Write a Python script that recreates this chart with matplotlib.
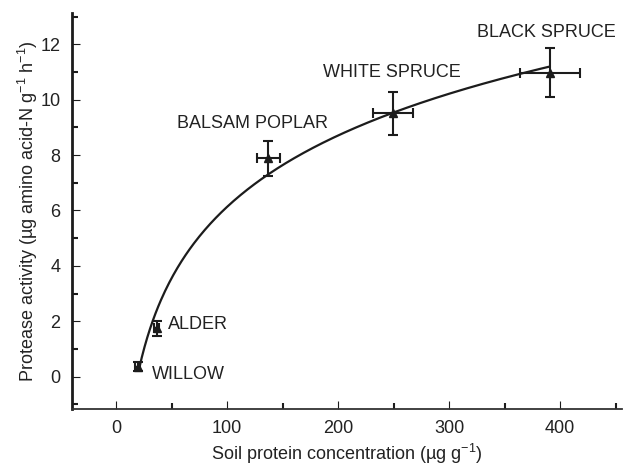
import numpy as np
import matplotlib
matplotlib.use("Agg")
import matplotlib.pyplot as plt
from matplotlib.ticker import MultipleLocator

plt.rcParams["font.family"] = ["Liberation Sans", "DejaVu Sans"]
plt.rcParams["mathtext.default"] = "regular"

# Stand data
species = ["WILLOW", "ALDER", "BALSAM POPLAR", "WHITE SPRUCE", "BLACK SPRUCE"]
protein = [19.5, 36.6, 137.0, 249.4, 390.9]          # µg g-1
protein_err = [2.0, 2.5, 10.5, 18.0, 27.0]
protease = [0.36, 1.75, 7.88, 9.51, 10.97]           # µg amino acid-N g-1 h-1
protease_err = [0.15, 0.27, 0.64, 0.78, 0.88]

# label anchors (left edge, vertical centre) in data units
label_x = [32.1, 47.0, 54.6, 186.0, 325.5]
label_y = [0.06, 1.87, 9.15, 10.97, 12.42]

ink = "#1c1c1c"

fig = plt.figure(figsize=(6.23, 4.66), dpi=100)
ax = fig.add_axes([0.115, 0.1217, 0.884, 0.8511])

# logarithmic fit through the stand means
a, b = np.polyfit(np.log(protein), protease, 1)
xs = np.linspace(20.7, 390, 300)
ax.plot(xs, a * np.log(xs) + b, color=ink, lw=1.6, zorder=2)

ax.errorbar(protein, protease, xerr=protein_err, yerr=protease_err,
            fmt="^", color=ink, ms=6, elinewidth=1.5, capsize=3.3,
            capthick=1.5, zorder=3)

for name, lx, ly in zip(species, label_x, label_y):
    ax.text(lx, ly, name, fontsize=13, color="#222222", ha="left", va="center")

ax.set_xlim(-40, 456)
ax.set_ylim(-1.18, 13.14)
ax.xaxis.set_major_locator(MultipleLocator(100))
ax.xaxis.set_minor_locator(MultipleLocator(50))
ax.yaxis.set_major_locator(MultipleLocator(2))
ax.yaxis.set_minor_locator(MultipleLocator(1))

ax.tick_params(which="both", direction="in", colors=ink, labelcolor="#222222",
               labelsize=13)
ax.tick_params(which="major", length=6, width=0.8, pad=8)
ax.tick_params(which="minor", length=4, width=1.5)

for side in ["top", "right"]:
    ax.spines[side].set_visible(False)
ax.spines["left"].set_linewidth(2.0)
ax.spines["left"].set_color(ink)
ax.spines["bottom"].set_linewidth(1.3)
ax.spines["bottom"].set_color("#333333")

ax.set_xlabel("Soil protein concentration (µg g$^{-1}$)", fontsize=13,
              color="#222222", labelpad=3)
ax.set_ylabel("Protease activity (µg amino acid-N g$^{-1}$ h$^{-1}$)",
              fontsize=13, color="#222222", labelpad=0.5)

fig.savefig("out.png", dpi=100)
